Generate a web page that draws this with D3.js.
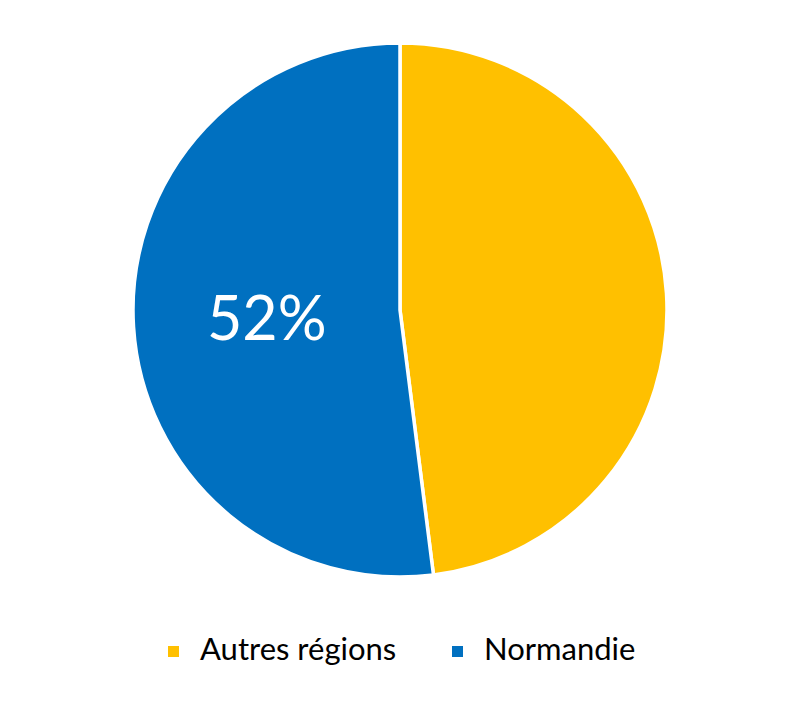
<!DOCTYPE html>
<html><head><meta charset="utf-8">
<script src="https://cdn.jsdelivr.net/npm/d3@7"></script>
<style>body{margin:0;background:#fff}</style>
</head><body>
<svg id="chart" width="800" height="702"></svg>
<script>
const categories = ["Autres régions", "Normandie"];
const values = [48, 52];
const colors = ["#FFC000", "#0070C0"];
const labels = [null, "52%"];

const svg = d3.select("#chart");
const cx = 400, cy = 310, r = 267;
const pie = d3.pie().sort(null).value(d => d.v);
const data = pie(categories.map((c, i) => ({c, v: values[i], col: colors[i], lab: labels[i]})));
const arc = d3.arc().innerRadius(0).outerRadius(r);
const g = svg.append("g").attr("transform", `translate(${cx},${cy})`);
g.selectAll("path").data(data).join("path")
  .attr("d", arc).attr("fill", d => d.data.col)
  .attr("stroke", "#fff").attr("stroke-width", 3.5).attr("stroke-linejoin", "round");
g.selectAll("text").data(data.filter(d => d.data.lab)).join("text")
  .attr("transform", d => `translate(${arc.centroid(d)})`)
  .attr("text-anchor", "middle").attr("dy", "0.35em")
  .attr("font-family", "Lato, sans-serif").attr("font-size", 61)
  .attr("fill", "#fff").text(d => d.data.lab);

const legendX = [168, 452];
const lg = svg.append("g");
categories.forEach((c, i) => {
  lg.append("rect").attr("x", legendX[i]).attr("y", 646).attr("width", 11).attr("height", 11).attr("fill", colors[i]);
  lg.append("text").attr("x", legendX[i] + 32).attr("y", 660)
    .attr("font-family", "Lato, sans-serif").attr("font-size", 31).attr("fill", "#000").text(c);
});
</script>
</body></html>
